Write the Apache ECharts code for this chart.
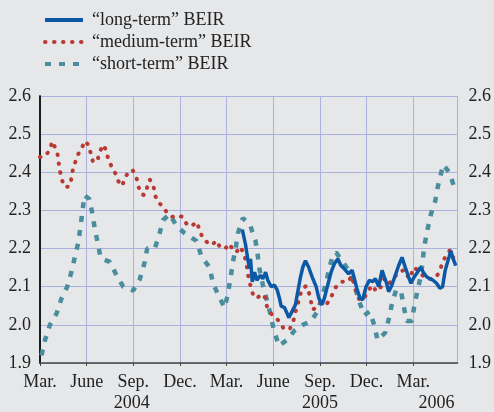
<!DOCTYPE html>
<html>
<head>
<meta charset="utf-8">
<script src="https://cdn.jsdelivr.net/npm/echarts@6/dist/echarts.min.js"></script>
<style>
  html, body { margin: 0; padding: 0; background: #e6e7e9; }
  #chart { width: 494px; height: 412px; }
</style>
</head>
<body>
<div id="chart"></div>
<script>
// x = months since March 2004
var monthNames = ["Mar.", "June", "Sep.", "Dec."];
var yearTicks = [5.9, 18, 25.5];
var yearNames = ["2004", "2005", "2006"];
var yTicks = [1.9, 2.6];

var longTerm = [
  [13.01, 2.25], [13.22, 2.21], [13.37, 2.17], [13.48, 2.147], [13.54, 2.173], [13.65, 2.113],
  [13.8, 2.138], [13.95, 2.117], [14.17, 2.13], [14.33, 2.121], [14.51, 2.138], [14.65, 2.117],
  [14.87, 2.1], [15.08, 2.104], [15.25, 2.092], [15.4, 2.07], [15.51, 2.049], [15.73, 2.045],
  [15.87, 2.032], [16.0, 2.019], [16.22, 2.036], [16.43, 2.053], [16.58, 2.087], [16.73, 2.121],
  [16.9, 2.151], [17.07, 2.168], [17.28, 2.151], [17.5, 2.126], [17.76, 2.1], [17.93, 2.07],
  [18.14, 2.053], [18.29, 2.07], [18.5, 2.104], [18.72, 2.138], [18.93, 2.16], [19.15, 2.173],
  [19.36, 2.155], [19.57, 2.147], [19.85, 2.134], [20.07, 2.143], [20.22, 2.121], [20.37, 2.096],
  [20.58, 2.07], [20.75, 2.066], [20.97, 2.1], [21.18, 2.117], [21.39, 2.113], [21.57, 2.121],
  [21.78, 2.1], [22.0, 2.143], [22.14, 2.126], [22.29, 2.109], [22.42, 2.087], [22.63, 2.104],
  [22.85, 2.13], [23.06, 2.155], [23.28, 2.177], [23.49, 2.151], [23.7, 2.126], [23.86, 2.109],
  [24.07, 2.126], [24.28, 2.138], [24.46, 2.151], [24.65, 2.138], [24.86, 2.126], [25.07, 2.121],
  [25.28, 2.117], [25.5, 2.109], [25.72, 2.096], [25.89, 2.1], [26.06, 2.143], [26.27, 2.173],
  [26.42, 2.194], [26.57, 2.173], [26.74, 2.155]
];

var mediumTerm = [
  [0, 2.44], [0.36, 2.443], [0.64, 2.46], [0.79, 2.481], [0.96, 2.466], [1.13, 2.447],
  [1.2, 2.425], [1.28, 2.404], [1.39, 2.383], [1.56, 2.362], [1.86, 2.362], [2.03, 2.384],
  [2.1, 2.404], [2.25, 2.424], [2.42, 2.445], [2.67, 2.462], [2.89, 2.482], [3.17, 2.469],
  [3.27, 2.447], [3.42, 2.426], [3.7, 2.432], [3.85, 2.454], [4.06, 2.472], [4.28, 2.456],
  [4.38, 2.435], [4.6, 2.415], [4.86, 2.396], [5.03, 2.377], [5.28, 2.364], [5.46, 2.385],
  [5.71, 2.402], [5.95, 2.406], [6.2, 2.387], [6.31, 2.366], [6.46, 2.345], [6.7, 2.34],
  [6.89, 2.36], [7.06, 2.381], [7.3, 2.364], [7.38, 2.343], [7.55, 2.323], [7.92, 2.31],
  [8.13, 2.296], [8.52, 2.283], [8.77, 2.287], [9.2, 2.283], [9.42, 2.265], [9.74, 2.258],
  [10.06, 2.27], [10.27, 2.249], [10.44, 2.229], [10.74, 2.217], [11.06, 2.209], [11.34, 2.221],
  [11.6, 2.202], [11.92, 2.2], [12.15, 2.213], [12.37, 2.2], [12.62, 2.19], [12.88, 2.205],
  [13.16, 2.181], [13.33, 2.147], [13.41, 2.124], [13.54, 2.102], [13.69, 2.081], [13.95, 2.069],
  [14.23, 2.081], [14.51, 2.07], [14.59, 2.049], [14.87, 2.029], [15.19, 2.019], [15.45, 2.004],
  [15.73, 1.987], [16.09, 1.991], [16.3, 2.011], [16.41, 2.032], [16.58, 2.053], [16.69, 2.074],
  [16.86, 2.094], [17.12, 2.102], [17.33, 2.08], [17.54, 2.04], [17.86, 2.048], [18.14, 2.062],
  [18.44, 2.055], [18.72, 2.07], [18.87, 2.089], [19.15, 2.106], [19.4, 2.113], [19.79, 2.113],
  [20.07, 2.128], [20.33, 2.087], [20.54, 2.066], [20.8, 2.066], [21.07, 2.086], [21.35, 2.104],
  [21.65, 2.087], [21.93, 2.1], [22.14, 2.121], [22.42, 2.107], [22.74, 2.121], [22.99, 2.136],
  [23.42, 2.144], [23.75, 2.121], [24.07, 2.151], [24.39, 2.138], [24.78, 2.123], [25.14, 2.12],
  [25.46, 2.123], [25.72, 2.143], [25.89, 2.164], [26.11, 2.181], [26.37, 2.196], [26.57, 2.177]
];

var shortTerm = [
  [0.1, 1.92], [0.32, 1.96], [0.64, 2.0], [1.07, 2.03], [1.39, 2.07], [1.75, 2.1], [2.03, 2.14],
  [2.25, 2.18], [2.46, 2.215], [2.61, 2.26], [2.74, 2.3], [2.85, 2.34], [3.17, 2.33], [3.38, 2.29],
  [3.53, 2.25], [3.74, 2.21], [3.9, 2.175], [4.49, 2.165], [4.92, 2.13], [5.35, 2.1], [5.99, 2.09],
  [6.42, 2.12], [6.74, 2.165], [6.89, 2.2], [7.38, 2.2], [7.66, 2.235], [7.92, 2.275], [8.34, 2.29],
  [8.77, 2.26], [9.31, 2.24], [10.06, 2.22], [10.38, 2.18], [10.91, 2.15], [11.12, 2.11],
  [11.44, 2.08], [11.87, 2.045], [12.08, 2.08], [12.24, 2.12], [12.41, 2.165], [12.58, 2.2],
  [12.73, 2.24], [13.05, 2.28], [13.52, 2.26], [13.86, 2.22], [14.01, 2.18], [14.12, 2.145],
  [14.33, 2.105], [14.59, 2.065], [14.81, 2.03], [15.02, 1.99], [15.36, 1.945], [15.87, 1.96],
  [16.37, 1.985], [16.9, 2.0], [17.44, 2.01], [17.86, 2.036], [18.18, 2.08], [18.4, 2.11],
  [18.61, 2.15], [18.82, 2.18], [19.04, 2.19], [19.47, 2.165], [19.9, 2.14], [20.22, 2.105],
  [20.54, 2.06], [20.86, 2.025], [21.18, 2.035], [21.5, 2.0], [21.71, 1.96], [22.21, 1.98],
  [22.46, 2.02], [22.63, 2.055], [22.89, 2.09], [23.21, 2.09], [23.36, 2.055], [23.58, 2.01],
  [23.92, 2.01], [24.07, 2.05], [24.28, 2.09], [24.5, 2.13], [24.71, 2.205], [24.92, 2.25],
  [25.14, 2.29], [25.42, 2.325], [25.57, 2.36], [25.78, 2.395], [25.93, 2.42], [26.31, 2.4],
  [26.53, 2.375], [26.7, 2.35]
];

var font = "Liberation Serif";
var gridColor = "#a9b1dc";

var chart = echarts.init(document.getElementById("chart"));
chart.setOption({
  backgroundColor: "#e6e7e9",
  animation: false,
  textStyle: { fontFamily: font },
  legend: {
    orient: "vertical",
    left: 38,
    top: 5,
    itemWidth: 38,
    itemHeight: 14,
    itemGap: 2,
    itemStyle: { color: "transparent", borderWidth: 0 },
    lineStyle: { width: 4 },
    textStyle: { fontFamily: font, fontSize: 18, lineHeight: 20, color: "#222", padding: [0, 0, 0, 4] },
    data: ["\u201clong-term\u201d BEIR", "\u201cmedium-term\u201d BEIR", "\u201cshort-term\u201d BEIR"]
  },
  grid: { left: 40, right: 35, top: 96, bottom: 42 },
  xAxis: [
    {
      type: "value",
      min: 0,
      max: 26.85,
      interval: 3,
      axisLine: { onZero: false, lineStyle: { color: "#444", width: 1.5 } },
      axisTick: { length: 3, lineStyle: { color: "#444" } },
      splitLine: { show: true, lineStyle: { color: gridColor, width: 1 } },
      axisLabel: {
        margin: 10,
        fontFamily: font,
        fontSize: 18,
        color: "#222",
        showMaxLabel: false,
        formatter: function(v) {
          if (Math.abs(v / 3 - Math.round(v / 3)) > 0.01) return "";
          return monthNames[Math.round(v / 3) % 4];
        }
      }
    },
    {
      type: "value",
      position: "bottom",
      min: 0,
      max: 26.85,
      offset: 21,
      axisLine: { show: false },
      axisTick: { show: false },
      splitLine: { show: false },
      axisLabel: {
        margin: 10,
        fontFamily: font,
        fontSize: 18,
        color: "#222",
        customValues: yearTicks,
        formatter: function(v) {
          return yearNames[yearTicks.indexOf(v)];
        }
      }
    }
  ],
  yAxis: [
    {
      type: "value",
      min: yTicks[0],
      max: yTicks[1],
      interval: 0.1,
      axisLine: { show: true, lineStyle: { color: "#111", width: 1.5 } },
      axisTick: { show: false },
      splitLine: { lineStyle: { color: gridColor, width: 1 } },
      axisLabel: {
        margin: 9,
        fontFamily: font,
        fontSize: 18,
        color: "#222",
        formatter: function(v) { return v.toFixed(1); }
      }
    },
    {
      type: "value",
      position: "right",
      min: yTicks[0],
      max: yTicks[1],
      interval: 0.1,
      axisLine: { show: true, lineStyle: { color: "#111", width: 1.5 } },
      axisTick: { show: false },
      splitLine: { show: false },
      axisLabel: {
        margin: 11,
        fontFamily: font,
        fontSize: 18,
        color: "#222",
        formatter: function(v) { return v.toFixed(1); }
      }
    }
  ],
  series: [
    {
      name: "\u201clong-term\u201d BEIR",
      type: "line",
      symbol: "none",
      data: longTerm,
      z: 4,
      lineStyle: { color: "#0a58a6", width: 3.5 },
      itemStyle: { color: "#0a58a6" }
    },
    {
      name: "\u201cmedium-term\u201d BEIR",
      type: "line",
      symbol: "none",
      data: mediumTerm,
      z: 3,
      lineStyle: { color: "#b93a33", width: 4, type: [0.5, 8.5], cap: "round" },
      itemStyle: { color: "#b93a33" }
    },
    {
      name: "\u201cshort-term\u201d BEIR",
      type: "line",
      symbol: "none",
      data: shortTerm,
      z: 2,
      lineStyle: { color: "#4a8d9c", width: 4.5, type: [6, 8] },
      itemStyle: { color: "#4a8d9c" }
    }
  ]
});
</script>
</body>
</html>
